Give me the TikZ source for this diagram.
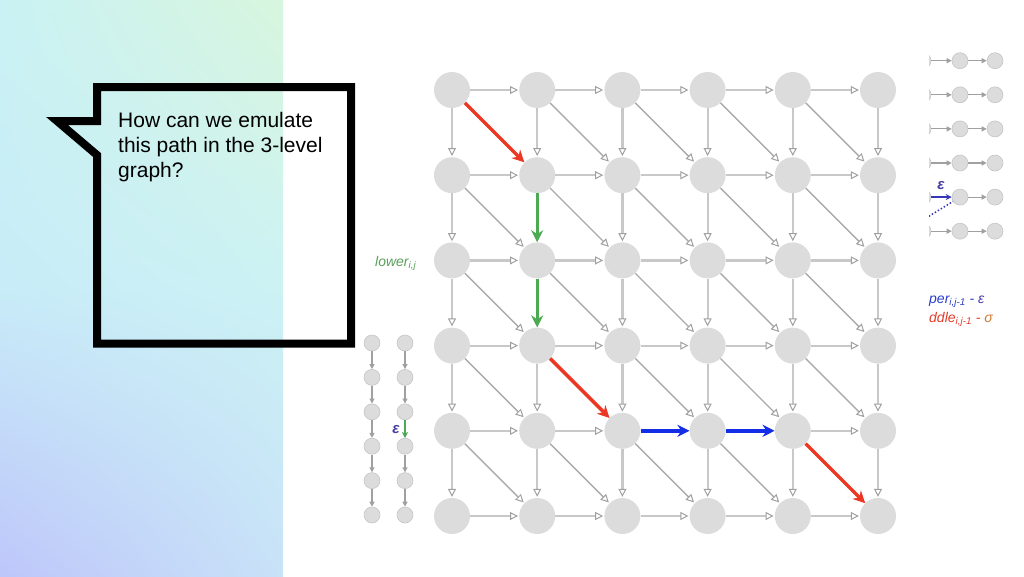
\documentclass[tikz,border=0pt]{standalone}
\usepackage{fontspec}
\setmainfont{Liberation Sans}
\usetikzlibrary{arrows.meta,shadings}
\definecolor{vtxgray}{RGB}{220,220,220}
\definecolor{edgegray}{RGB}{160,160,160}
\definecolor{axisgray}{RGB}{200,200,200}
\definecolor{pathred}{RGB}{235,55,35}
\definecolor{pathgreen}{RGB}{76,170,80}
\definecolor{pathblue}{RGB}{20,45,230}
\definecolor{epsblue}{RGB}{70,60,160}
\definecolor{labgreen}{RGB}{90,160,90}
\definecolor{labblue}{RGB}{40,60,200}
\definecolor{labred}{RGB}{225,60,40}
\definecolor{sigorange}{RGB}{205,125,50}
\definecolor{bgul}{RGB}{202,242,244}
\definecolor{bgur}{RGB}{216,246,222}
\definecolor{bgml}{RGB}{200,236,248}
\definecolor{bgmr}{RGB}{204,242,244}
\definecolor{bgll}{RGB}{190,198,250}
\definecolor{bglr}{RGB}{200,226,248}
\begin{document}
\begin{tikzpicture}[x=1pt,y=-1pt,
	vtx/.style={circle,fill=vtxgray,minimum size=36pt,inner sep=0pt},
	dot/.style={circle,fill=vtxgray,draw=vtxgray!75!gray,line width=0.6pt,minimum size=16pt,inner sep=0pt},
	link/.style={draw=axisgray,line width=2.2pt,-{Triangle[open,length=8pt,width=8pt,line width=1pt,color=edgegray]},shorten >=1pt},
	slant/.style={link,draw=edgegray!90!white,line width=1.4pt},
	smlink/.style={draw=edgegray,line width=1.1pt,-{Triangle[length=5pt,width=5pt]}},
	hop/.style={line width=3.5pt,-{Stealth[length=12pt,width=12pt]}},
	lab/.style={inner sep=0pt,font=\fontsize{14}{16}\selectfont\itshape}]
	\useasboundingbox (0,0) rectangle (1024,576);
	\shade[upper left=bgul,upper right=bgur,lower left=bgml,lower right=bgmr] (0,0) rectangle (283,288.5);
	\shade[upper left=bgml,upper right=bgmr,lower left=bgll,lower right=bglr] (0,288) rectangle (283,576);
	\draw[line width=8pt,line join=miter] (97,87) -- (351,87) -- (351,343.5) -- (97,343.5) -- (97,155) -- (57,121) -- (97,121) -- cycle;
	\node[anchor=north west,inner sep=0pt,align=left,font=\fontsize{21}{25}\selectfont] (question) at (118,112.5)
		{How can we emulate\\this path in the 3-level\\graph?};

	\foreach \i in {0,...,5}
		\foreach \j in {0,...,5}
			\node[vtx] (g-\i-\j) at ({452+85.2*\j},{90+85.2*\i}) {};
	\foreach \i in {0,...,5}
		\foreach \j [count=\ja] in {0,...,4}
			\draw[link] (g-\i-\j) -- (g-\i-\ja);
	\foreach \i [count=\ia] in {0,...,4}
		\foreach \j in {0,...,5}
			\draw[link] (g-\i-\j) -- (g-\ia-\j);
	\foreach \i [count=\ia] in {0,...,4}
		\foreach \j [count=\ja] in {0,...,4}
			\draw[slant] (g-\i-\j) -- (g-\ia-\ja);

	\draw[hop,pathred] (g-0-0) -- (g-1-1);
	\draw[hop,pathgreen,line width=3pt] (g-1-1) -- (g-2-1);
	\draw[hop,pathgreen,line width=3pt] (g-2-1) -- (g-3-1);
	\draw[hop,pathred] (g-3-1) -- (g-4-2);
	\draw[hop,pathblue] (g-4-2) -- (g-4-3);
	\draw[hop,pathblue] (g-4-3) -- (g-4-4);
	\draw[hop,pathred] (g-4-4) -- (g-5-5);

	\node[lab,labgreen,anchor=base west] (lower) at (375,266) {lower\textsubscript{i,j}};

	\foreach \c in {1,2}
		\foreach \k in {1,...,6}
			\node[dot] (l-\c-\k) at ({372+33*(\c-1)},{343+34.4*(\k-1)}) {};
	\foreach \c in {1,2}
		\foreach \k [count=\ka from 2] in {1,...,5}
			\draw[smlink] (l-\c-\k) -- (l-\c-\ka);
	\draw[line width=1.8pt,pathgreen,-{Stealth[length=6pt,width=6pt]}] (l-2-3) -- (l-2-4);
	\node[lab,epsblue,font=\fontsize{15}{16}\selectfont\itshape\bfseries] (eps-l) at (396,430) {ε};

	\begin{scope}
		\clip (929,0) rectangle (1024,576);
		\foreach \k in {1,...,6}
			\foreach \c [count=\x from 0] in {923,960,995}
				\node[dot] (r-\k-\x) at (\c,{60.7+34.1*(\k-1)}) {};
		\foreach \k in {1,2,3,4,6}
			\draw[smlink] (r-\k-0) -- (r-\k-1);
		\foreach \k in {1,...,6}
			\draw[smlink] (r-\k-1) -- (r-\k-2);
		\draw[line width=1.8pt,epsblue!70!pathblue,-{Stealth[length=6pt,width=6pt]}] (r-5-0) -- (r-5-1);
		\coordinate (dot-in) at (905,231);
		\draw[line width=1.5pt,epsblue!60!pathblue,dotted] (dot-in) -- (r-5-1);
	\end{scope}
	\node[lab,epsblue,font=\fontsize{15}{16}\selectfont\itshape\bfseries] (eps-r) at (941,186) {ε};
	\node[lab,labblue,anchor=base west] (upper) at (929,303) {per\textsubscript{i,j-1} - \textcolor{epsblue}{ε}};
	\node[lab,labred,anchor=base west] (middle) at (929,322) {ddle\textsubscript{i,j-1} - \textcolor{sigorange}{σ}};
\end{tikzpicture}
\end{document}
